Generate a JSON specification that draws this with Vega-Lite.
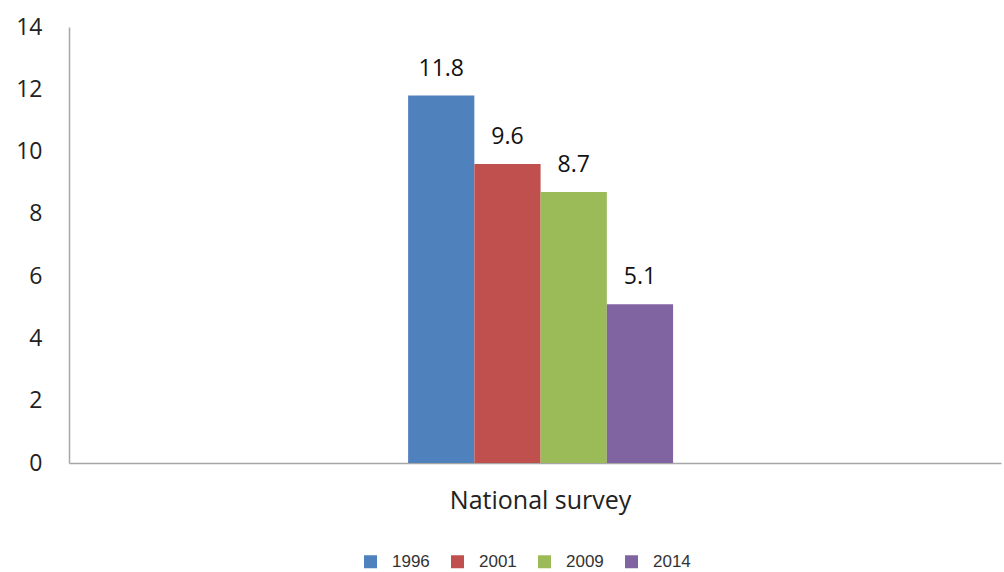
{
  "$schema": "https://vega.github.io/schema/vega-lite/v6.json",
  "autosize": {"type": "none"},
  "padding": {"left": 69, "top": 27, "right": 3, "bottom": 109},
  "width": 932,
  "height": 436,
  "background": "white",
  "config": {"view": {"stroke": null}},
  "data": {"values": [
    {"category": "National survey", "year": "1996", "value": 11.8},
    {"category": "National survey", "year": "2001", "value": 9.6},
    {"category": "National survey", "year": "2009", "value": 8.7},
    {"category": "National survey", "year": "2014", "value": 5.1}
  ]},
  "encoding": {
    "x": {"field": "category", "type": "nominal",
      "scale": {"paddingInner": 0, "paddingOuter": 1, "align": 0.509},
      "axis": {"title": null, "labelAngle": 0, "labelLimit": 0, "labelFont": "Open Sans", "labelFontSize": 25, "labelColor": "#222222", "labelPadding": 25, "ticks": false, "domainColor": "#a6a6a6", "domainWidth": 1.5}},
    "xOffset": {"field": "year", "type": "nominal", "scale": {"paddingInner": 0, "paddingOuter": 0.345}},
    "y": {"field": "value", "type": "quantitative",
      "scale": {"domain": [0, 14], "nice": false},
      "axis": {"title": null, "values": [0, 2, 4, 6, 8, 10, 12, 14], "grid": false, "ticks": false, "labelFont": "Open Sans", "labelFontSize": 23, "labelColor": "#222222", "labelPadding": 27, "domainColor": "#a6a6a6", "domainWidth": 1.5}}
  },
  "layer": [
    {
      "mark": {"type": "bar"},
      "encoding": {
        "color": {"field": "year", "type": "nominal",
          "scale": {"domain": ["1996", "2001", "2009", "2014"], "range": ["#4f81bd", "#c0504d", "#9bbb59", "#8064a2"]},
          "legend": {"title": null, "orient": "none", "direction": "horizontal", "legendX": 293, "legendY": 526, "symbolType": "square", "symbolSize": 169, "symbolStrokeWidth": 0, "labelFont": "Liberation Sans", "labelFontSize": 17, "labelColor": "#333333", "columnPadding": 19, "labelOffset": 13}}
      }
    },
    {
      "mark": {"type": "text", "baseline": "middle", "dy": -27, "font": "Open Sans", "fontSize": 23, "color": "#111111"},
      "encoding": {"text": {"field": "value", "type": "quantitative", "format": ".1f"}}
    }
  ]
}
